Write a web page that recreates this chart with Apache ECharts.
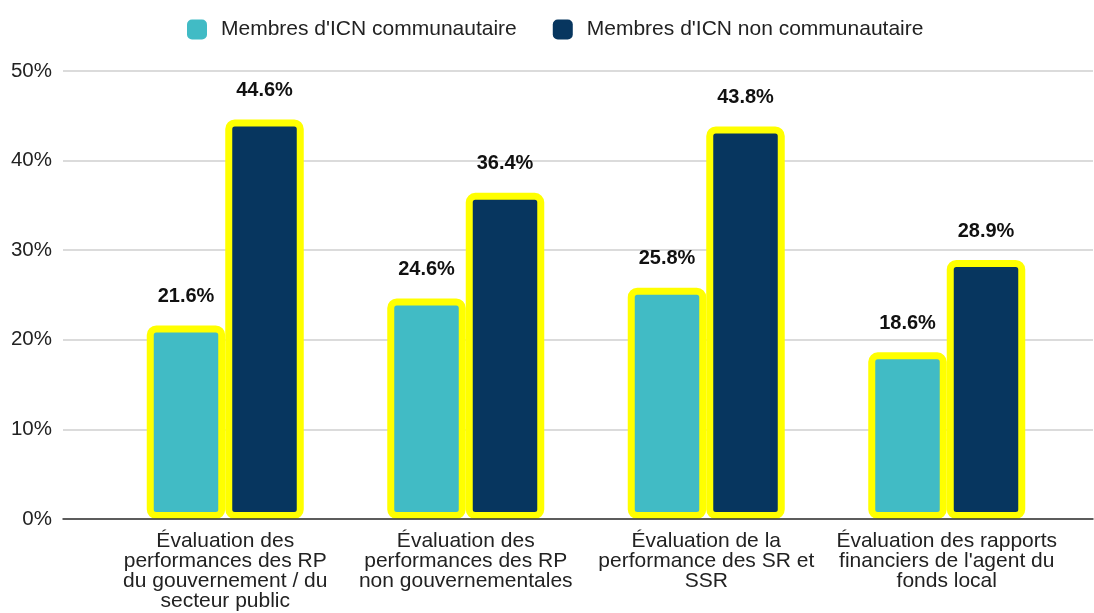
<!DOCTYPE html>
<html>
<head>
<meta charset="utf-8">
<script src="https://cdn.jsdelivr.net/npm/echarts@6/dist/echarts.min.js"></script>
<style>
  html, body { margin: 0; padding: 0; background: #fff; }
  #chart { width: 1094px; height: 613px; }
</style>
</head>
<body>
<div id="chart"></div>
<script>
// categories and values
const categories = [
  'Évaluation des\nperformances des RP\ndu gouvernement / du\nsecteur public',
  'Évaluation des\nperformances des RP\nnon gouvernementales',
  'Évaluation de la\nperformance des SR et\nSSR',
  'Évaluation des rapports\nfinanciers de l\'agent du\nfonds local'
]
const communautaire = [21.6, 24.6, 25.8, 18.6]
const nonCommunautaire = [44.6, 36.4, 43.8, 28.9]
const yTicks = [0, 10, 20, 30, 40, 50]

const FONT = '"Liberation Sans", Arial, Helvetica, sans-serif'

let myChart = echarts.init(document.getElementById('chart'))

let barLabel = {
  show: true,
  position: 'top',
  distance: 19,
  fontFamily: FONT,
  fontSize: 20,
  fontWeight: 'bold',
  color: '#111',
  formatter: p => p.value.toFixed(1) + '%'
}

let option = {
  animation: false,
  textStyle: { fontFamily: FONT },
  legend: {
    left: 187,
    top: 19,
    padding: 0,
    itemWidth: 20,
    itemHeight: 20,
    itemGap: 36,
    icon: 'roundRect',
    itemStyle: { borderWidth: 0 },
    textStyle: { fontSize: 21, color: '#222', padding: [0, 0, 0, 9], fontFamily: FONT },
    data: ["Membres d'ICN communautaire", "Membres d'ICN non communautaire"]
  },
  grid: [
    // background grid: gridlines, y labels and baseline across the full width
    { left: 63, right: 1, top: 71, bottom: 94 },
    // bars grid
    { left: 105, right: 27, top: 71, bottom: 94 }
  ],
  xAxis: [
    {
      gridIndex: 0,
      type: 'category',
      data: categories,
      z: 5,
      axisLine: { show: true, lineStyle: { color: '#333', width: 1.5 } },
      axisTick: { show: false },
      axisLabel: { show: false },
      splitLine: { show: false }
    },
    {
      gridIndex: 1,
      type: 'category',
      data: categories,
      axisLine: { show: false },
      axisTick: { show: false },
      axisLabel: {
        margin: 12,
        fontSize: 21,
        lineHeight: 20,
        color: '#222',
        fontFamily: FONT,
        interval: 0,
        align: 'center'
      }
    }
  ],
  yAxis: [
    {
      gridIndex: 0,
      type: 'value',
      min: yTicks[0],
      max: yTicks[yTicks.length - 1],
      interval: 10,
      axisLine: { show: false },
      axisTick: { show: false },
      axisLabel: {
        margin: 11,
        fontSize: 20.5,
        color: '#222',
        fontFamily: FONT,
        formatter: '{value}%'
      },
      splitLine: { show: true, lineStyle: { color: '#cfcfcf', width: 1.5 } }
    },
    {
      gridIndex: 1,
      type: 'value',
      min: yTicks[0],
      max: yTicks[yTicks.length - 1],
      interval: 10,
      show: false,
      splitLine: { show: false }
    }
  ],
  series: [
    {
      name: "Membres d'ICN communautaire",
      type: 'bar',
      xAxisIndex: 1,
      yAxisIndex: 1,
      data: communautaire,
      barWidth: 78.5,
      barGap: 0,
      itemStyle: {
        color: '#41bbc5',
        borderColor: '#ffff00',
        borderWidth: 7,
        borderRadius: 6
      },
      label: barLabel
    },
    {
      name: "Membres d'ICN non communautaire",
      type: 'bar',
      xAxisIndex: 1,
      yAxisIndex: 1,
      data: nonCommunautaire,
      barWidth: 78.5,
      barGap: 0,
      itemStyle: {
        color: '#07365f',
        borderColor: '#ffff00',
        borderWidth: 7,
        borderRadius: 6
      },
      label: barLabel
    }
  ]
}

myChart.setOption(option)
</script>
</body>
</html>
